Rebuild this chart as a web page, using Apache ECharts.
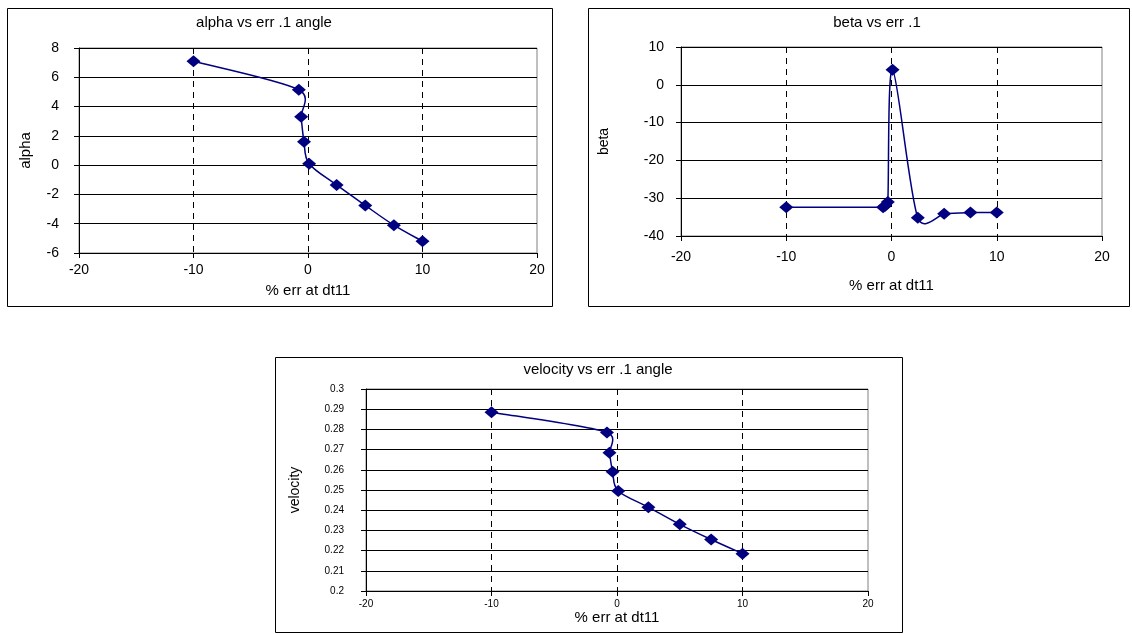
<!DOCTYPE html>
<html>
<head>
    <meta charset="utf-8">
    <title>ECharts</title>
    <script type="text/javascript" src="https://cdn.jsdelivr.net/npm/echarts@6/dist/echarts.min.js"></script>
    <style>
        html, body { margin: 0; padding: 0; background: #fff; }
    </style>
</head>
<body>
    <div id="main" style="width: 1132px;height:634px;"></div>

    <script type="text/javascript">
        // % err at dt11 (x of every series)
        var errX = [-10, -0.8, -0.6, -0.35, 0.1, 2.5, 5, 7.5, 10];
        var alpha = [7.1, 5.15, 3.3, 1.6, 0.1, -1.35, -2.75, -4.1, -5.2];
        var beta = [-32.4, -32.4, -32.0, -31.0, 4.0, -35.2, -34.1, -33.8, -33.8];
        var velocity = [0.2885, 0.2785, 0.2685, 0.259, 0.2495, 0.2415, 0.233, 0.2255, 0.2185];

        var titles = ['alpha vs err .1 angle', 'beta vs err .1', 'velocity vs err .1 angle'];
        var yNames = ['alpha', 'beta', 'velocity'];
        var xName = '% err at dt11';

        function pairs(ys) {
            var out = [];
            for (var i = 0; i < errX.length; i++) {
                out.push([errX[i], ys[i]]);
            }
            return out;
        }

        var font = 'Liberation Sans, Arial, sans-serif';
        var navy = '#000080';
        var vLines = ['rgba(0,0,0,0)', '#000', '#000', '#000', 'rgba(0,0,0,0)'];

        function xAxis(idx, fs, gap, lblMargin, nameFs) {
            return {
                type: 'value', gridIndex: idx, min: -20, max: 20, interval: 10,
                name: xName, nameLocation: 'middle', nameGap: gap,
                nameTextStyle: { fontFamily: font, fontSize: nameFs, color: '#000' },
                axisLine: { onZero: false, lineStyle: { color: '#000', width: 1 } },
                axisTick: { show: true, length: 5, lineStyle: { color: '#000' } },
                axisLabel: { fontFamily: font, fontSize: fs, color: '#000', margin: lblMargin },
                splitLine: { show: true, lineStyle: { color: vLines, type: [6, 5], width: 1 } }
            };
        }

        function yAxis(idx, min, max, interval, fs, gap, nameFs, lblMargin) {
            return {
                type: 'value', gridIndex: idx, min: min, max: max, interval: interval,
                name: yNames[idx], nameLocation: 'middle', nameGap: gap,
                nameTextStyle: { fontFamily: font, fontSize: nameFs, color: '#000' },
                axisLine: { show: true, onZero: false, lineStyle: { color: '#000', width: 1 } },
                axisTick: { show: true, length: 5, lineStyle: { color: '#000' } },
                axisLabel: { fontFamily: font, fontSize: fs, color: '#000', margin: lblMargin },
                splitLine: { show: true, lineStyle: { color: '#000', width: 1 } }
            };
        }

        // Excel-style smoothed line: bezier through the points, arms = 1/6 of neighbour span
        function smoothLine(idx, ys) {
            return {
                type: 'custom', xAxisIndex: idx, yAxisIndex: idx,
                data: pairs(ys), silent: true, z: 2,
                renderItem: function (params, api) {
                    if (params.dataIndex !== 0) return null;
                    var p = [];
                    for (var i = 0; i < errX.length; i++) p.push(api.coord([errX[i], ys[i]]));
                    var d = 'M' + p[0][0] + ' ' + p[0][1];
                    for (var j = 0; j < p.length - 1; j++) {
                        var p0 = p[j - 1] || p[j], p1 = p[j], p2 = p[j + 1], p3 = p[j + 2] || p[j + 1];
                        var ax = (p2[0] - p0[0]) / 6, ay = (p2[1] - p0[1]) / 6;
                        var bx = (p3[0] - p1[0]) / 6, by = (p3[1] - p1[1]) / 6;
                        var seg = Math.hypot(p2[0] - p1[0], p2[1] - p1[1]) * 0.8;
                        var arms = Math.hypot(ax, ay) + Math.hypot(bx, by);
                        var k = arms > seg ? seg / arms : 1;
                        d += ' C' + (p1[0] + ax * k) + ' ' + (p1[1] + ay * k) + ' ' +
                            (p2[0] - bx * k) + ' ' + (p2[1] - by * k) + ' ' + p2[0] + ' ' + p2[1];
                    }
                    return {
                        type: 'path',
                        shape: { pathData: d },
                        style: { fill: 'none', stroke: navy, lineWidth: 1.5 }
                    };
                },
                animation: false
            };
        }

        function markers(idx, ys) {
            return {
                type: 'scatter', xAxisIndex: idx, yAxisIndex: idx,
                data: pairs(ys), z: 3,
                symbol: 'diamond', symbolSize: [14, 12],
                itemStyle: { color: navy, opacity: 1 },
                animation: false
            };
        }

        function border(x, y, w, h) {
            return {
                type: 'rect', shape: { x: x + 0.5, y: y + 0.5, width: w, height: h },
                style: { fill: 'none', stroke: '#000', lineWidth: 1 }, silent: true
            };
        }

        function titleText(text, cx, cy) {
            return {
                type: 'text', x: cx, y: cy,
                style: { text: text, fontFamily: font, fontSize: 15, fill: '#000', align: 'center', verticalAlign: 'middle' }
            };
        }

        var myChart = echarts.init(document.getElementById('main'));

        myChart.setOption({
            animation: false,
            grid: [
                { left: 79, top: 48, width: 458, height: 205, show: true, borderColor: '#808080', borderWidth: 1 },
                { left: 681, top: 47, width: 421, height: 189, show: true, borderColor: '#808080', borderWidth: 1 },
                { left: 366, top: 389, width: 502, height: 202, show: true, borderColor: '#808080', borderWidth: 1 }
            ],
            xAxis: [
                xAxis(0, 14, 30, 10, 15),
                xAxis(1, 14, 42, 14, 15),
                xAxis(2, 10, 19, 8, 15)
            ],
            yAxis: [
                yAxis(0, -6, 8, 2, 14, 46, 15, 20),
                yAxis(1, -40, 10, 10, 14, 70, 14, 17),
                yAxis(2, 0.2, 0.3, 0.01, 10, 64, 14, 22)
            ],
            series: [
                smoothLine(0, alpha), markers(0, alpha),
                smoothLine(1, beta), markers(1, beta),
                smoothLine(2, velocity), markers(2, velocity)
            ],
            graphic: [
                border(7, 8, 545, 298),
                border(588, 8, 541, 298),
                border(275, 357, 627, 275),
                titleText(titles[0], 264, 23),
                titleText(titles[1], 877, 23),
                titleText(titles[2], 598, 370)
            ]
        });
    </script>
</body>
</html>
